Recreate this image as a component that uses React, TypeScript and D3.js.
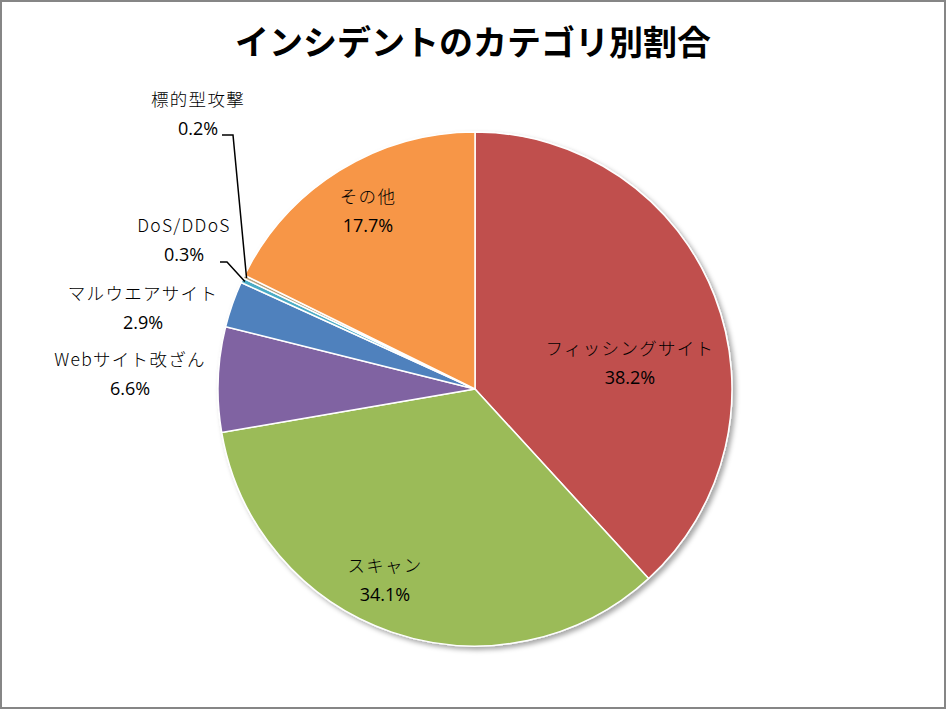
import { useMemo } from "react";
import * as d3 from "d3";

const WIDTH = 947;
const HEIGHT = 710;

const categories = ["フィッシングサイト", "スキャン", "Webサイト改ざん", "マルウエアサイト", "DoS/DDoS", "標的型攻撃", "その他"];
const shares = [38.2, 34.1, 6.6, 2.9, 0.3, 0.2, 17.7];
const colors = ["#C0504D", "#9BBB59", "#8064A2", "#4F81BD", "#4BACC6", "#B8A27E", "#F79646"];
// label anchor in pixels (middle of the two-line label), picked per slice like Excel does
const labelPos: [number, number][] = [
  [630, 363],
  [385, 580],
  [130, 374],
  [143, 308],
  [184, 240],
  [198, 114],
  [368, 211],
];
// leader lines for the two tiny slices: [start of horizontal, elbow]
const leaders: Record<number, [number, number][]> = {
  4: [[220, 262], [227, 262]],
  5: [[222, 135], [233, 135]],
};

type Slice = { name: string; value: number; color: string; i: number };

const data: Slice[] = categories.map((name, i) => ({ name, value: shares[i], color: colors[i], i }));

const FONT = '"Noto Sans CJK JP", "Noto Sans", sans-serif';
const NUM_FONT = '"Open Sans", "Noto Sans", sans-serif';

export default function App() {
  const cx = 475;
  const cy = 389;
  const radius = 257;

  const arcs = useMemo(() => d3.pie<Slice>().value((d) => d.value).sort(null)(data), []);
  const arcGen = d3.arc<d3.PieArcDatum<Slice>>().innerRadius(0).outerRadius(radius);
  const edgeArc = d3.arc<d3.PieArcDatum<Slice>>().innerRadius(radius - 3).outerRadius(radius - 3);

  return (
    <svg
      width={WIDTH}
      height={HEIGHT}
      style={{ position: "absolute", left: 0, top: 0, background: "#fff" }}
    >
      <defs>
        <filter id="shadow" x="-10%" y="-10%" width="120%" height="120%">
          <feDropShadow dx="3" dy="3" stdDeviation="2.5" floodColor="#000" floodOpacity="0.35" />
        </filter>
      </defs>
      <rect x={1} y={1} width={WIDTH - 3} height={HEIGHT - 3} fill="#fff" stroke="#868686" strokeWidth={2} />

      <text x={473} y={55} textAnchor="middle" fontFamily={FONT} fontWeight="bold" fontSize={34} fill="#000">
        インシデントのカテゴリ別割合
      </text>

      <g transform={`translate(${cx},${cy})`}>
        <g filter="url(#shadow)">
          {arcs.map((a) => (
            <path key={a.data.name} d={arcGen(a) || ""} fill={a.data.color} stroke="#fff" strokeWidth={1.5} />
          ))}
        </g>
      </g>

      {arcs.map((a) => {
        const pts = leaders[a.data.i];
        if (!pts) return null;
        const [ex, ey] = edgeArc.centroid(a);
        const all = [...pts, [cx + ex, cy + ey] as [number, number]];
        const line = d3.line()(all) || "";
        return <path key={"l" + a.data.name} d={line} fill="none" stroke="#000" strokeWidth={1.5} />;
      })}

      {arcs.map((a) => {
        const [lx, ly] = labelPos[a.data.i];
        return (
          <g key={"t" + a.data.name}>
            <text x={lx} y={ly - 8} textAnchor="middle" fontFamily={FONT} fontSize={17.5} fontWeight={300} letterSpacing={1.3} fill="#000">
              {a.data.name}
            </text>
            <text x={lx} y={ly + 21} textAnchor="middle" fontFamily={NUM_FONT} fontSize={18} fill="#000">
              {a.data.value.toFixed(1)}%
            </text>
          </g>
        );
      })}
    </svg>
  );
}
